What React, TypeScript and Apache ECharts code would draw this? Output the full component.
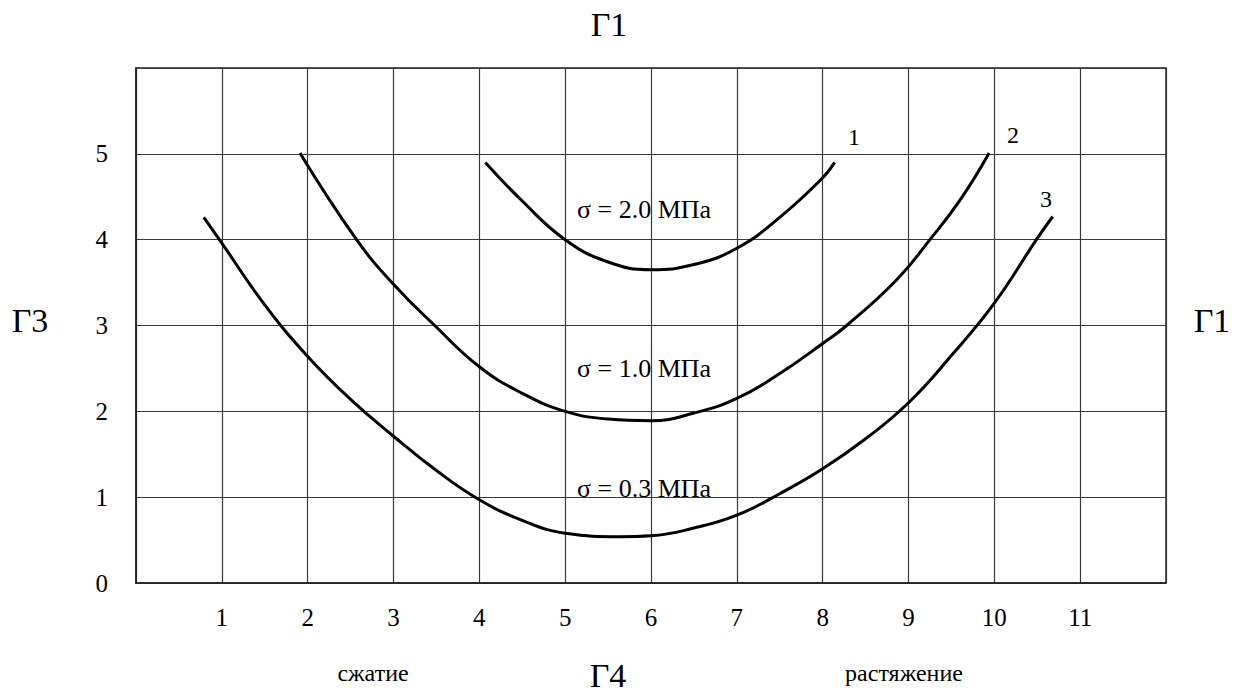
import React, { useEffect, useRef } from "react";
import * as echarts from "echarts";

// Strain curves: x = deformation scale position, y = vertical scale position
const curveStress20: [number, number][] = [
  [4.07, 4.9], [4.5, 4.45], [5, 4.0], [5.5, 3.74], [6, 3.65], [6.5, 3.71],
  [7, 3.9], [7.5, 4.26], [8, 4.72], [8.14, 4.9],
];
const curveStress10: [number, number][] = [
  [1.91, 5.01], [2.57, 4.0], [3, 3.48], [3.48, 3.0], [4, 2.52], [4.5, 2.21],
  [5, 2.0], [5.5, 1.91], [6, 1.89], [6.5, 1.98], [7, 2.15], [7.5, 2.44],
  [8, 2.79], [8.28, 3.0], [8.86, 3.53], [9.25, 4.0], [9.6, 4.46], [9.94, 5.01],
];
const curveStress03: [number, number][] = [
  [0.79, 4.26], [1, 3.96], [1.5, 3.24], [2, 2.64], [2.5, 2.14], [3, 1.71],
  [3.5, 1.31], [4, 0.97], [4.5, 0.73], [5, 0.58], [5.64, 0.54], [6, 0.55],
  [6.5, 0.64], [7, 0.79], [7.5, 1.04], [8, 1.33], [8.5, 1.68], [9, 2.1],
  [9.5, 2.65], [10, 3.26], [10.49, 4.0], [10.68, 4.27],
];

const xTickLabels = ["", "1", "2", "3", "4", "5", "6", "7", "8", "9", "10", "11", ""];
const yTickLabels = ["0", "1", "2", "3", "4", "5", ""];

const SERIF = '"Liberation Serif", "Times New Roman", serif';

function txt(text: string, x: number, y: number, size: number, align = "center") {
  return {
    type: "text",
    x,
    y,
    silent: true,
    style: {
      text,
      font: `${size}px ${SERIF}`,
      fill: "#000",
      textAlign: align,
      textVerticalAlign: "middle",
      align,
      verticalAlign: "middle",
    },
  };
}

export default function App() {
  const ref = useRef<HTMLDivElement>(null);

  useEffect(() => {
    if (!ref.current) return;
    const chart = echarts.init(ref.current, undefined, { renderer: "svg" });

    const line = (name: string, data: [number, number][]) => ({
      name,
      type: "line",
      data,
      smooth: 0.45,
      showSymbol: false,
      symbol: "none",
      lineStyle: { color: "#000", width: 3 },
      z: 5,
    });

    chart.setOption({
      animation: false,
      backgroundColor: "#fff",
      grid: {
        left: 136,
        top: 68,
        width: 1030,
        height: 515,
        show: true,
        borderColor: "#222",
        borderWidth: 1.5,
      },
      xAxis: {
        type: "value",
        min: 0,
        max: 12,
        interval: 1,
        axisLine: { show: true, lineStyle: { color: "#222", width: 1.5 } },
        axisTick: { show: false },
        splitLine: { show: true, lineStyle: { color: "#3a3a3a", width: 1.2 } },
        axisLabel: {
          formatter: (v: number) => xTickLabels[Math.round(v)] ?? "",
          fontFamily: SERIF,
          fontSize: 25,
          color: "#000",
          margin: 22,
        },
      },
      yAxis: {
        type: "value",
        min: 0,
        max: 6,
        interval: 1,
        axisLine: { show: true, lineStyle: { color: "#222", width: 1.5 } },
        axisTick: { show: false },
        splitLine: { show: true, lineStyle: { color: "#3a3a3a", width: 1.2 } },
        axisLabel: {
          formatter: (v: number) => yTickLabels[Math.round(v)] ?? "",
          fontFamily: SERIF,
          fontSize: 25,
          color: "#000",
          margin: 28,
        },
      },
      series: [
        line("σ = 2.0 МПа", curveStress20),
        line("σ = 1.0 МПа", curveStress10),
        line("σ = 0.3 МПа", curveStress03),
      ],
      graphic: [
        txt("Г1", 609, 24, 34),
        txt("Г3", 30, 320, 34),
        txt("Г1", 1212, 320, 34),
        txt("Г4", 608, 675, 34),
        txt("сжатие", 373, 673, 24),
        txt("растяжение", 904, 673, 24),
        txt("σ = 2.0 МПа", 577, 209, 26, "left"),
        txt("σ = 1.0 МПа", 577, 368, 26, "left"),
        txt("σ = 0.3 МПа", 577, 488, 26, "left"),
        txt("1", 854, 137, 24),
        txt("2", 1013, 135, 24),
        txt("3", 1046, 199, 24),
      ],
    });

    return () => chart.dispose();
  }, []);

  return (
    <div
      ref={ref}
      style={{ position: "absolute", left: 0, top: 0, width: 1240, height: 695 }}
    />
  );
}
